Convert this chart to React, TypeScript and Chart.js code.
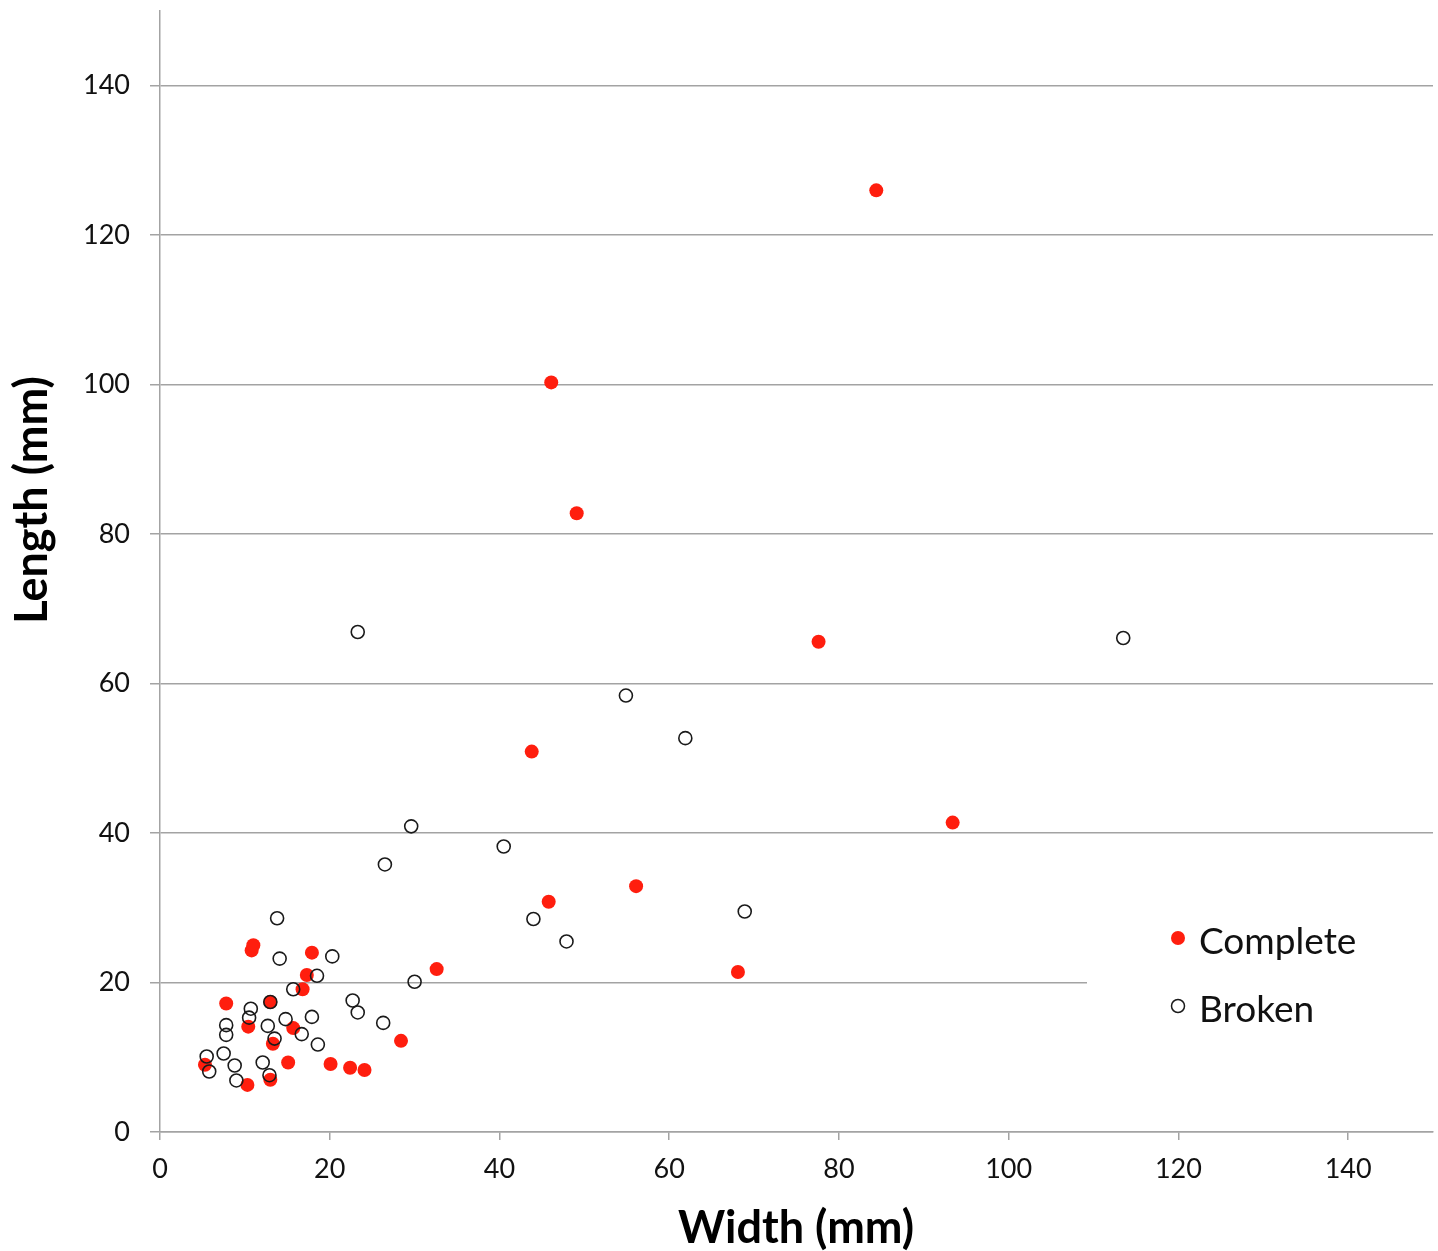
import React, { useEffect, useRef } from "react";
import { Chart, registerables } from "chart.js";

Chart.register(...registerables);

const completeX = [84.4, 46.1, 49.1, 77.6, 43.8, 93.4, 56.1, 45.8, 68.1, 32.6, 28.4, 10.8, 11.0, 17.9, 17.3, 16.8, 7.8, 13.0, 10.4, 15.7, 13.3, 5.3, 15.1, 20.1, 22.4, 24.1, 10.3, 13.0];
const completeY = [126.0, 100.3, 82.8, 65.6, 50.9, 41.4, 32.9, 30.8, 21.4, 21.8, 12.2, 24.3, 25.0, 24.0, 21.0, 19.1, 17.2, 17.4, 14.1, 13.9, 11.8, 9.0, 9.3, 9.1, 8.6, 8.3, 6.3, 7.0];

const brokenX = [23.3, 113.5, 54.9, 61.9, 29.6, 40.5, 26.5, 44.0, 47.9, 68.9, 30.0, 13.8, 14.1, 20.3, 18.5, 15.7, 13.0, 22.7, 23.3, 10.7, 10.5, 7.8, 7.8, 12.7, 14.8, 17.9, 16.7, 13.5, 18.6, 7.5, 5.5, 5.8, 8.8, 12.1, 9.0, 12.9, 26.3];
const brokenY = [66.9, 66.1, 58.4, 52.7, 40.9, 38.2, 35.8, 28.5, 25.5, 29.5, 20.1, 28.6, 23.2, 23.5, 20.9, 19.1, 17.4, 17.6, 16.0, 16.5, 15.3, 14.3, 13.0, 14.2, 15.1, 15.4, 13.1, 12.5, 11.7, 10.5, 10.1, 8.1, 8.9, 9.3, 6.9, 7.6, 14.6];

const seriesNames = ["Complete", "Broken"];
const xTitle = "Width (mm)";
const yTitle = "Length (mm)";
const axisMin = 0;
const axisMax = 150;
const tickStep = 20;

const RED = "#ff1e0e";
const DARK = "#1a1a1a";
const GRID = "#a3a3a3";
const FONT = "Lato, 'Open Sans', sans-serif";

export default function App() {
  const ref = useRef<HTMLCanvasElement | null>(null);

  useEffect(() => {
    document.body.style.margin = "0";
    const canvas = ref.current;
    if (!canvas) return;

    const filterTicks = (scale: any) => {
      scale.ticks = scale.ticks.filter((t: any) => t.value % tickStep === 0);
    };

    const overlay = {
      id: "overlay",
      beforeDatasetsDraw(chart: any) {
        const ctx = chart.ctx;
        ctx.save();
        ctx.fillStyle = "#ffffff";
        ctx.fillRect(1087, 912, 351, 128);
        ctx.restore();
      },
      afterDraw(chart: any) {
        const ctx = chart.ctx;
        ctx.save();
        // legend
        ctx.fillStyle = RED;
        ctx.beginPath();
        ctx.arc(1178, 938, 7, 0, Math.PI * 2);
        ctx.fill();
        ctx.strokeStyle = DARK;
        ctx.lineWidth = 1.5;
        ctx.beginPath();
        ctx.arc(1178, 1006, 6.5, 0, Math.PI * 2);
        ctx.stroke();
        ctx.fillStyle = "#111";
        ctx.font = `37px ${FONT}`;
        ctx.textAlign = "left";
        ctx.textBaseline = "middle";
        ctx.fillText(seriesNames[0], 1199, 942);
        ctx.fillText(seriesNames[1], 1199, 1010);
        // axis titles
        ctx.fillStyle = "#000";
        ctx.font = `bold 45px ${FONT}`;
        ctx.textAlign = "center";
        ctx.textBaseline = "middle";
        ctx.fillText(xTitle, 796, 1228);
        ctx.translate(32, 500);
        ctx.rotate(-Math.PI / 2);
        ctx.font = `bold 45px ${FONT}`;
        ctx.fillText(yTitle, 0, 0);
        ctx.restore();
      },
    };

    const chart = new Chart(canvas, {
      type: "scatter",
      data: {
        datasets: [
          {
            label: seriesNames[0],
            data: completeX.map((x, i) => ({ x, y: completeY[i] })),
            pointStyle: "circle",
            pointRadius: 7,
            pointBackgroundColor: RED,
            pointBorderColor: RED,
            pointBorderWidth: 0,
            order: 1,
          },
          {
            label: seriesNames[1],
            data: brokenX.map((x, i) => ({ x, y: brokenY[i] })),
            pointStyle: "circle",
            pointRadius: 6.5,
            pointBackgroundColor: "rgba(0,0,0,0)",
            pointBorderColor: DARK,
            pointBorderWidth: 1.6,
            order: 0,
          },
        ],
      },
      options: {
        animation: false,
        responsive: false,
        events: [],
        layout: { autoPadding: false, padding: { left: 0, top: 11, right: 5, bottom: 0 } },
        plugins: {
          legend: { display: false },
          tooltip: { enabled: false },
        },
        scales: {
          x: {
            type: "linear",
            min: axisMin,
            max: axisMax,
            ticks: { stepSize: tickStep, color: "#111", font: { family: FONT, size: 27 }, padding: 13, maxRotation: 0 },
            grid: { drawOnChartArea: false, drawTicks: true, tickLength: 8, color: GRID, lineWidth: 1.5 },
            border: { display: true, color: GRID, width: 1.5 },
            afterBuildTicks: filterTicks,
            afterFit: (s: any) => {
              s.height = 119;
              s.paddingLeft = 0;
              s.paddingRight = 0;
              s.paddingTop = 0;
              s.paddingBottom = 0;
            },
          },
          y: {
            type: "linear",
            min: axisMin,
            max: axisMax,
            ticks: { stepSize: tickStep, color: "#111", font: { family: FONT, size: 27 }, padding: 20 },
            grid: { drawOnChartArea: true, drawTicks: true, tickLength: 10, color: GRID, lineWidth: 1.5 },
            border: { display: true, color: GRID, width: 1.5 },
            afterBuildTicks: filterTicks,
            afterFit: (s: any) => {
              s.width = 160;
              s.paddingLeft = 0;
              s.paddingRight = 0;
              s.paddingTop = 0;
              s.paddingBottom = 0;
            },
          },
        },
      },
      plugins: [overlay],
    });

    return () => chart.destroy();
  }, []);

  return (
    <div style={{ width: 1438, height: 1251, background: "#fff" }}>
      <canvas ref={ref} width={1438} height={1251} style={{ display: "block" }} />
    </div>
  );
}
